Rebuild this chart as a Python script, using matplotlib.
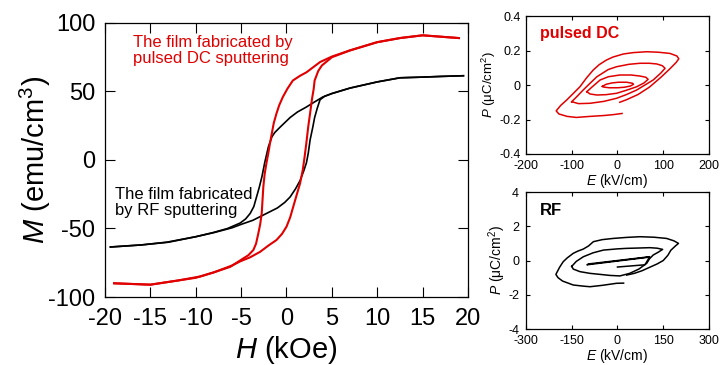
import matplotlib
matplotlib.use('Agg')
import matplotlib.pyplot as plt

plt.rcParams['font.family'] = ['Liberation Sans', 'DejaVu Sans']
plt.rcParams['mathtext.fontset'] = 'custom'
plt.rcParams['mathtext.rm'] = 'Liberation Sans'
plt.rcParams['mathtext.it'] = 'Liberation Sans:italic'
plt.rcParams['axes.unicode_minus'] = False

# M-H loops
H_dc_down = [19, 17, 15, 12.5, 10, 7, 5, 3.7, 2.8, 2.2, 1.5, 0.7, 0.1, -0.4, -0.8, -1.1, -1.4, -1.6, -1.85, -2.0,
             -2.2, -2.4, -2.55, -2.73, -2.9, -3.1, -3.35, -3.65, -4.2, -4.75, -6.2, -8, -9.5, -12, -15, -19]
M_dc_down = [89, 90, 91, 89, 86, 80, 75.5, 71.5, 67, 64, 61.5, 58, 52, 46, 40, 34, 27, 20, 11, 5,
             -2, -10, -19.5, -39, -47, -53.5, -61, -65.7, -69.5, -71.8, -78, -82, -85, -88, -91, -90]
H_dc_up = [-19, -15, -12, -10, -8, -6, -5.1, -4, -2.9, -2, -1.1, -0.5, 0.0, 0.4, 0.75, 1.1, 1.5, 1.8, 2.0, 2.2,
           2.4, 2.6, 2.8, 3.0, 3.1, 3.5, 3.9, 5, 7, 10, 12.5, 15, 17, 19]
M_dc_up = [-90, -91, -88, -86, -82, -77, -74, -71, -67, -62.5, -58.4, -54, -48.7, -42, -34, -26, -17, -7, 2.4, 13,
           24.5, 34, 44, 52, 58, 65, 69, 75, 80, 86, 89, 91, 90, 89]

H_rf_down = [19.5, 17, 15, 12.5, 10, 7, 5, 4, 3, 2.2, 1.2, 0.4, -0.7, -1.3, -1.6, -2, -2.4, -2.7, -3.0, -3.3,
             -3.6, -4, -4.5, -5.1, -6.5, -8.1, -10, -13.2, -16, -19.4]
M_rf_down = [61.5, 61, 60.5, 60, 57, 52.5, 48.5, 46, 42, 38.7, 35, 31, 24, 20, 17, 9.5, -2, -12, -20, -27,
             -34, -39, -43, -46, -50, -53, -56, -60, -62, -63.5]
H_rf_up = [-19.4, -16, -13, -10, -8, -6, -5, -3.7, -2.2, -1, -0.2, 0.4, 1, 1.5, 1.9, 2.2, 2.4, 2.6, 2.9, 3.1,
           3.4, 3.7, 4.2, 5, 7, 10, 12.5, 15, 17, 19.5]
M_rf_up = [-63.5, -62, -60, -56, -53, -49.5, -47, -44, -39, -35, -31, -27, -21, -15, -8, -2, 5, 14.6, 24, 31,
           38, 44, 46.5, 48.5, 52.5, 57, 60, 60.5, 61, 61.5]

# P-E loops, pulsed DC film
E_dc1 = [5, 20, 45, 70, 95, 115, 128, 134, 130, 115, 90, 64, 35, 13, -10, -24, -40, -53, -68, -82,
         -97, -111, -124, -134, -128, -110, -90, -60, -30, -10, 10]
P_dc1 = [-0.10, -0.085, -0.055, -0.012, 0.045, 0.095, 0.13, 0.152, 0.168, 0.183, 0.19, 0.193, 0.188, 0.18, 0.162, 0.145, 0.118, 0.087, 0.04, -0.01,
         -0.05, -0.087, -0.118, -0.15, -0.168, -0.182, -0.188, -0.182, -0.177, -0.172, -0.165]
E_dc2 = [-100, -88, -75, -60, -45, -20, -2, 25, 49, 70, 86, 98, 104, 95, 78, 60, 42, 20, -2, -30, -60, -85, -100]
P_dc2 = [-0.097, -0.065, -0.029, 0.01, 0.048, 0.09, 0.106, 0.12, 0.126, 0.126, 0.122, 0.112, 0.097, 0.07, 0.029, 0.0, -0.029, -0.055, -0.077, -0.095, -0.106, -0.108, -0.097]
E_dc3 = [-67, -55, -38, -20, 5, 30, 49, 62, 67, 58, 42, 20, -2, -25, -45, -60, -67]
P_dc3 = [-0.039, -0.01, 0.029, 0.048, 0.058, 0.058, 0.052, 0.045, 0.033, 0.012, -0.01, -0.03, -0.048, -0.056, -0.058, -0.052, -0.039]
E_dc4 = [-33, -25, -12, 2, 20, 33, 35, 28, 15, 0, -18, -30, -33]
P_dc4 = [-0.008, 0.004, 0.012, 0.016, 0.016, 0.01, 0.004, -0.006, -0.013, -0.016, -0.016, -0.012, -0.008]

# P-E loops, RF film
E_rf1 = [30, 55, 80, 105, 130, 150, 165, 175, 190, 200, 185, 161, 120, 74, 30, -14, -50, -79, -95, -112,
         -130, -145, -165, -178, -190, -202, -195, -180, -145, -110, -90, -50, -3, 20]
P_rf1 = [-0.85, -0.75, -0.6, -0.4, -0.2, 0.0, 0.3, 0.6, 0.85, 1.0, 1.15, 1.29, 1.36, 1.39, 1.35, 1.29, 1.22, 1.1, 0.85, 0.67,
         0.55, 0.42, 0.15, -0.07, -0.4, -0.81, -1.0, -1.2, -1.43, -1.5, -1.53, -1.45, -1.33, -1.32]
E_rf2 = [-150, -135, -112, -80, -46, 0, 30, 70, 106, 130, 148, 135, 117, 105, 96, 70, 40, 8, -25, -57, -90, -123, -145, -150]
P_rf2 = [-0.34, -0.05, 0.22, 0.45, 0.61, 0.68, 0.71, 0.73, 0.75, 0.72, 0.65, 0.5, 0.32, 0.1, -0.16, -0.5, -0.75, -0.9, -0.87, -0.81, -0.75, -0.65, -0.5, -0.34]
E_rf3 = [0, 90, 105, -100, -95, 105]
P_rf3 = [-0.38, -0.25, 0.2, -0.25, -0.2, 0.22]


def style(ax, size, length, xpad, ypad):
    ax.tick_params(direction='in', top=True, right=True, labelsize=size,
                   length=length, width=0.8)
    ax.tick_params(axis='x', pad=xpad)
    ax.tick_params(axis='y', pad=ypad)
    for s in ax.spines.values():
        s.set_linewidth(0.9)


fig = plt.figure(figsize=(7.25, 3.65), dpi=100)

ax = fig.add_axes([0.1448, 0.1863, 0.5007, 0.7507])
ax.plot(H_rf_down, M_rf_down, color='black', lw=1.2)
ax.plot(H_rf_up, M_rf_up, color='black', lw=1.2)
ax.plot(H_dc_down, M_dc_down, color='#e00000', lw=1.5)
ax.plot(H_dc_up, M_dc_up, color='#e00000', lw=1.5)
ax.set_xlim(-20, 20)
ax.set_ylim(-100, 100)
ax.set_xticks(range(-20, 21, 5))
ax.set_yticks(range(-100, 101, 50))
style(ax, 17, 7, 8, 7)
ax.set_xlabel(r'$H$ (kOe)', fontsize=21)
ax.set_ylabel(r'$M$ (emu/cm$^3$)', fontsize=21)
ax.xaxis.set_label_coords(0.5, -0.135)
ax.yaxis.set_label_coords(-0.144, 0.5)
ax.text(-16.9, 80, 'The film fabricated by\npulsed DC sputtering', color='#e00000',
        fontsize=12, va='center', linespacing=1.1)
ax.text(-18.9, -31, 'The film fabricated\nby RF sputtering', color='black',
        fontsize=12, va='center', linespacing=1.1)

ax1 = fig.add_axes([0.7255, 0.5781, 0.2524, 0.378])
for e, p in [(E_dc1, P_dc1), (E_dc2, P_dc2), (E_dc3, P_dc3), (E_dc4, P_dc4)]:
    ax1.plot(e, p, color='#e00000', lw=1.1)
ax1.set_xlim(-200, 200)
ax1.set_ylim(-0.4, 0.4)
ax1.set_xticks([-200, -100, 0, 100, 200])
ax1.set_yticks([-0.4, -0.2, 0, 0.2, 0.4])
ax1.set_yticklabels(['-0.4', '-0.2', '0', '0.2', '0.4'])
style(ax1, 9, 3, 4, 4)
ax1.set_xlabel(r'$E$ (kV/cm)', fontsize=10, labelpad=0)
ax1.set_ylabel(r'$P$ (μC/cm$^2$)', fontsize=9.5, labelpad=1)
ax1.text(-169, 0.3, 'pulsed DC', color='#e00000', fontsize=11.5,
         fontweight='bold', va='center')

ax2 = fig.add_axes([0.7255, 0.0986, 0.2524, 0.3753])
for e, p in [(E_rf1, P_rf1), (E_rf2, P_rf2), (E_rf3, P_rf3)]:
    ax2.plot(e, p, color='black', lw=1.1)
ax2.set_xlim(-300, 300)
ax2.set_ylim(-4, 4)
ax2.set_xticks([-300, -150, 0, 150, 300])
ax2.set_yticks([-4, -2, 0, 2, 4])
style(ax2, 9, 3, 4, 5)
ax2.set_xlabel(r'$E$ (kV/cm)', fontsize=10, labelpad=0)
ax2.set_ylabel(r'$P$ (μC/cm$^2$)', fontsize=10, labelpad=0)
ax2.text(-254, 2.95, 'RF', color='black', fontsize=12,
         fontweight='bold', va='center')

fig.savefig('out.png', dpi=100)
